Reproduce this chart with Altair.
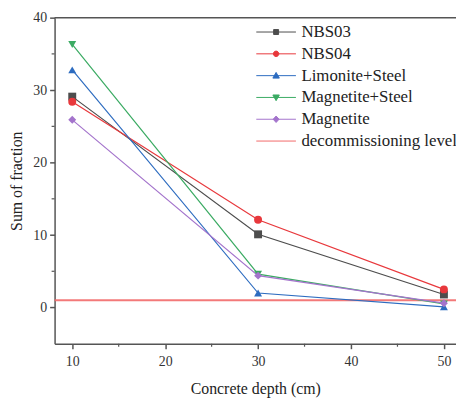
import altair as alt
import pandas as pd

depth = [10, 30, 50]
series_names = ["NBS03", "NBS04", "Limonite+Steel", "Magnetite+Steel", "Magnetite"]
nbs03 = [29.1, 10.1, 1.8]
nbs04 = [28.4, 12.1, 2.5]
limonite_steel = [32.8, 2.0, 0.1]
magnetite_steel = [36.3, 4.6, 0.5]
magnetite = [25.9, 4.4, 0.6]
decom_label = "decommissioning level"
decom_level = [1.0]

x_ticks = [10, 20, 30, 40, 50]
x_minor = [15, 25, 35, 45]
y_ticks = [0, 10, 20, 30, 40]
y_minor = [5, 15, 25, 35]

colors = ["#4d4d4d", "#e8383c", "#2d6cc0", "#3bab63", "#a474cc", "#f26a6a"]
shapes = ["square", "circle", "triangle-up", "triangle-down", "diamond"]
LINE = "M-1,0L7,0"
legend_paths = [
    LINE + "M2.5,-0.5L3.5,-0.5L3.5,0.5L2.5,0.5Z",
    LINE + "M2.45,0A0.55,0.55 0 1,0 3.55,0A0.55,0.55 0 1,0 2.45,0Z",
    LINE + "M3,-0.65L3.65,0.5L2.35,0.5Z",
    LINE + "M3,0.65L3.65,-0.5L2.35,-0.5Z",
    LINE + "M3,-0.65L3.6,0L3,0.65L2.4,0Z",
    LINE,
]

all_names = series_names + [decom_label]
vals = [nbs03, nbs04, limonite_steel, magnetite_steel, magnetite]
rows = []
for name, v in zip(series_names, vals):
    for d, val in zip(depth, v):
        rows.append({"series": name, "depth": d, "value": val})
df = pd.DataFrame(rows)

W, H = 405, 329
FONT = "Liberation Serif"
LFONT = "Times New Roman, Liberation Serif, serif"
AX = "#555555"

xscale = alt.Scale(domain=[8.1, 51.3], nice=False, zero=False)
yscale = alt.Scale(domain=[-5, 40], nice=False, zero=False)

x_enc = alt.X("depth:Q", scale=xscale,
              axis=alt.Axis(values=x_ticks, title="Concrete depth (cm)", grid=False,
                            tickSize=5, labelPadding=6, titlePadding=12, format="d",
                            labelFont=LFONT, titleFont=FONT))
y_enc = alt.Y("value:Q", scale=yscale,
              axis=alt.Axis(values=y_ticks, title="Sum of fraction", grid=False,
                            tickSize=5, labelPadding=3, titlePadding=8, format="d",
                            labelFont=LFONT, titleFont=FONT))

cscale = alt.Scale(domain=all_names, range=colors)

lines = alt.Chart(df).mark_line(strokeWidth=1.2).encode(
    x=x_enc, y=y_enc,
    color=alt.Color("series:N", scale=cscale, legend=None),
)
points = alt.Chart(df).mark_point(filled=True, size=64, opacity=1).encode(
    x=x_enc, y=y_enc,
    color=alt.Color("series:N", scale=cscale, legend=None),
    shape=alt.Shape("series:N", scale=alt.Scale(domain=series_names, range=shapes), legend=None),
)
decom = alt.Chart(pd.DataFrame({"series": [decom_label], "value": decom_level})).mark_rule(
    strokeWidth=2, opacity=0.9).encode(
    y=alt.Y("value:Q", scale=yscale, axis=alt.Axis(values=y_ticks, labelFont=LFONT)),
    color=alt.Color("series:N", scale=cscale, legend=None),
)

top_border = alt.Chart(pd.DataFrame({"a": [0]})).mark_rule(color=AX, strokeWidth=1.5).encode(
    x=alt.value(0), x2=alt.value(W), y=alt.value(0))

xminor = alt.Chart(pd.DataFrame({"depth": x_minor})).mark_rule(color=AX, strokeWidth=1.2).encode(
    x=alt.X("depth:Q", scale=xscale), y=alt.value(H), y2=alt.value(H + 3))
yminor = alt.Chart(pd.DataFrame({"value": y_minor})).mark_rule(color=AX, strokeWidth=1.2).encode(
    y=alt.Y("value:Q", scale=yscale), x=alt.value(0), x2=alt.value(-3))

leg = alt.Legend(title=None, orient="none", legendX=200, legendY=6,
                 labelFont=LFONT, labelFontSize=17, labelColor="#222",
                 symbolSize=100, symbolStrokeWidth=1, labelOffset=32, rowPadding=4,
                 padding=0)
legend_df = pd.DataFrame({"lg": all_names, "depth": [0] * 6, "value": [0] * 6})
legend_layer = alt.Chart(legend_df).mark_point(filled=True, size=100, clip=True, opacity=1).encode(
    x=alt.X("depth:Q", scale=xscale), y=alt.Y("value:Q", scale=yscale),
    color=alt.Color("lg:N", scale=alt.Scale(domain=all_names, range=colors), legend=leg),
    stroke=alt.Stroke("lg:N", scale=alt.Scale(domain=all_names, range=colors), legend=leg),
    shape=alt.Shape("lg:N", scale=alt.Scale(domain=all_names, range=legend_paths), legend=leg),
)

chart = alt.layer(decom, lines, points, top_border, xminor, yminor, legend_layer).resolve_scale(
    color="independent", shape="independent", stroke="independent"
).properties(
    width=W, height=H,
    autosize=alt.AutoSizeParams(type="none"),
    padding={"left": 47, "top": 8, "right": 0, "bottom": 54},
).configure(font=FONT).configure_view(stroke=None).configure_axis(
    domainColor=AX, domainWidth=1.5, tickColor=AX, tickWidth=1.5,
    labelFont=LFONT, labelFontSize=14, labelColor="#333",
    titleFont=FONT, titleFontSize=16, titleFontWeight="normal", titleColor="#222",
).configure_legend(labelFont=LFONT)

chart.save("out.html", embed_options={"renderer": "svg", "actions": False})
